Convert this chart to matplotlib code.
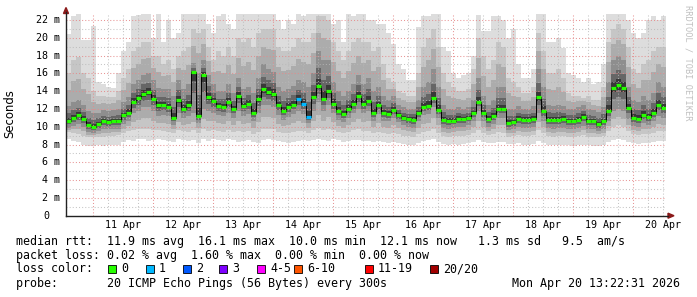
import numpy as np
import matplotlib
matplotlib.use("Agg")
import matplotlib.pyplot as plt
from matplotlib.patches import Rectangle, Polygon
import matplotlib.transforms as mtransforms

# ---------------- data ----------------
t_start = 10 + (13 + 22 / 60) / 24   # Apr 10 13:22 (day-of-April units)
t_end = 20 + (13 + 22 / 60) / 24     # Apr 20 13:22

day_ticks = [11, 12, 13, 14, 15, 16, 17, 18, 19, 20]
day_labels = ["11 Apr", "12 Apr", "13 Apr", "14 Apr", "15 Apr",
              "16 Apr", "17 Apr", "18 Apr", "19 Apr", "20 Apr"]
y_ticks = [0, 2, 4, 6, 8, 10, 12, 14, 16, 18, 20, 22]
y_labels = ["0", "2 m", "4 m", "6 m", "8 m", "10 m", "12 m", "14 m",
            "16 m", "18 m", "20 m", "22 m"]

# median RTT (ms), one value per 2-hour column
median_ms = [
    10.7, 11.0, 11.3, 10.9, 10.2, 10.0, 10.3, 10.6, 10.5, 10.6, 10.6, 11.3, 11.6, 12.8, 13.2,
    13.7, 13.9, 13.1, 12.4, 12.4, 12.2, 11.0, 13.0, 12.0, 12.4, 16.1, 11.2, 15.8, 13.3, 12.9,
    12.3, 12.2, 12.8, 12.0, 13.5, 12.3, 12.6, 11.5, 13.1, 14.2, 13.9, 13.7, 12.4, 11.8, 12.2,
    12.5, 13.1, 12.6, 11.1, 13.4, 14.6, 13.1, 14.0, 12.6, 11.8, 11.4, 12.0, 12.6, 13.5, 12.6,
    12.9, 11.5, 12.4, 11.5, 11.4, 11.9, 11.3, 11.0, 10.9, 10.8, 11.5, 12.2, 12.3, 13.2, 11.9,
    10.8, 10.7, 10.7, 10.9, 10.9, 11.0, 11.5, 12.8, 11.5, 10.9, 11.2, 12.0, 12.0, 10.4, 10.5,
    10.9, 10.8, 10.8, 10.9, 13.3, 11.8, 10.8, 10.8, 10.8, 10.9, 10.6, 10.6, 10.8, 11.1, 10.6,
    10.6, 10.3, 10.6, 11.8, 14.4, 14.7, 14.4, 12.1, 11.0, 10.9, 11.3, 11.1, 11.5, 12.5, 12.1,
]
# lost pings per column (out of 20)
loss_pings = [
    0, 0, 0, 0, 0, 0, 0, 0, 0, 0, 0, 0, 0, 0, 0, 0, 0, 0, 0, 0, 0, 0, 0, 0, 0, 0, 0, 0, 0, 0,
    0, 0, 0, 0, 0, 0, 0, 0, 0, 0, 0, 0, 0, 0, 0, 0, 1, 1, 1, 0, 0, 0, 0, 0, 0, 0, 0, 0, 0, 0,
    0, 0, 0, 0, 0, 0, 0, 0, 0, 0, 0, 0, 0, 0, 0, 0, 0, 0, 0, 0, 0, 0, 0, 0, 0, 0, 0, 0, 0, 0,
    0, 0, 0, 0, 0, 0, 0, 0, 0, 0, 0, 0, 0, 0, 0, 0, 0, 0, 0, 0, 0, 0, 0, 0, 0, 0, 0, 0, 0, 0,
]
# smoke: distribution of the 20 pings in each column (ms)
smoke_min = [
    8.6, 8.4, 8.3, 8.0, 7.8, 7.8, 7.9, 7.8, 7.9, 8.0, 8.0, 8.3, 8.5, 8.4, 8.6,
    8.6, 8.4, 8.5, 8.6, 8.5, 8.4, 8.3, 8.6, 8.5, 8.4, 8.5, 8.2, 8.6, 8.4, 8.6,
    8.5, 8.4, 8.6, 8.5, 8.3, 8.4, 8.5, 8.3, 8.2, 8.5, 8.6, 8.5, 8.4, 8.3, 8.2,
    8.3, 8.4, 8.5, 8.4, 8.5, 8.6, 8.5, 8.4, 8.6, 8.5, 8.3, 8.4, 8.5, 8.5, 8.4,
    8.4, 8.3, 8.4, 8.3, 8.2, 8.3, 8.2, 8.1, 8.0, 8.0, 8.2, 8.4, 8.5, 8.6, 8.3,
    8.1, 8.0, 8.1, 8.0, 8.1, 8.2, 8.3, 8.5, 8.3, 8.2, 8.2, 8.3, 8.3, 8.1, 8.1,
    8.2, 8.0, 8.0, 8.1, 8.4, 8.2, 8.0, 7.9, 8.0, 8.0, 7.9, 7.8, 7.9, 8.0, 7.9,
    7.8, 7.8, 8.0, 8.3, 8.5, 8.6, 8.5, 8.3, 8.2, 8.1, 8.2, 8.2, 8.3, 8.4, 8.4,
]
smoke_p10 = [
    9.4, 9.3, 9.2, 9.0, 8.8, 8.8, 8.9, 8.9, 9.0, 9.0, 9.1, 9.3, 9.5, 9.6, 9.7,
    9.8, 9.7, 9.6, 9.6, 9.5, 9.4, 9.3, 9.6, 9.5, 9.4, 9.6, 9.3, 9.7, 9.5, 9.6,
    9.5, 9.4, 9.6, 9.4, 9.5, 9.4, 9.5, 9.2, 9.4, 9.8, 9.8, 9.7, 9.4, 9.3, 9.3,
    9.4, 9.5, 9.5, 9.3, 9.6, 9.9, 9.6, 9.7, 9.6, 9.4, 9.3, 9.4, 9.6, 9.7, 9.5,
    9.5, 9.3, 9.4, 9.3, 9.2, 9.3, 9.2, 9.0, 9.0, 8.9, 9.2, 9.4, 9.5, 9.7, 9.3,
    9.0, 8.9, 9.0, 9.0, 9.0, 9.1, 9.3, 9.6, 9.3, 9.1, 9.2, 9.4, 9.3, 8.9, 9.0,
    9.1, 9.0, 9.0, 9.1, 9.6, 9.3, 9.0, 8.9, 9.0, 9.0, 8.9, 8.9, 9.0, 9.1, 8.9,
    8.8, 8.8, 9.0, 9.5, 10.0, 10.2, 10.0, 9.5, 9.2, 9.1, 9.2, 9.2, 9.3, 9.5, 9.5,
]
smoke_p25 = [
    9.9, 10.1, 10.3, 10.0, 9.4, 9.3, 9.5, 9.7, 9.7, 9.8, 9.8, 10.3, 10.6, 11.5, 11.8,
    12.2, 12.2, 11.8, 11.2, 11.3, 11.2, 10.2, 11.5, 11.0, 11.2, 11.5, 10.4, 12.0, 11.8, 11.6,
    11.3, 11.2, 11.6, 11.0, 11.8, 11.2, 11.4, 10.6, 11.6, 12.4, 12.4, 12.2, 11.3, 10.8, 11.1,
    11.4, 11.8, 11.4, 10.4, 11.8, 12.8, 11.8, 12.4, 11.5, 10.8, 10.5, 11.0, 11.5, 12.0, 11.5,
    11.8, 10.7, 11.4, 10.7, 10.6, 11.0, 10.5, 10.2, 10.0, 9.9, 10.6, 11.3, 11.4, 12.2, 11.0,
    9.9, 9.8, 9.9, 10.0, 10.0, 10.2, 10.6, 11.8, 10.6, 10.0, 10.3, 11.0, 11.0, 9.6, 9.7,
    10.0, 9.9, 9.9, 10.0, 11.5, 10.6, 9.9, 9.8, 9.9, 9.9, 9.7, 9.7, 9.9, 10.1, 9.7,
    9.7, 9.5, 9.7, 10.6, 11.8, 12.0, 11.8, 10.9, 10.1, 10.0, 10.4, 10.2, 10.6, 11.2, 11.0,
]
smoke_p75 = [
    12.3, 12.8, 13.0, 12.5, 11.8, 11.5, 11.6, 11.9, 11.8, 11.9, 12.0, 12.8, 13.4, 14.8, 15.2,
    15.8, 16.0, 15.2, 14.4, 14.3, 14.2, 13.5, 15.2, 14.2, 14.8, 17.2, 16.0, 17.5, 15.8, 14.8,
    14.0, 14.0, 14.8, 13.8, 15.5, 14.2, 14.5, 13.8, 15.5, 17.0, 16.5, 16.2, 14.5, 14.0, 14.3,
    14.6, 15.2, 15.0, 14.5, 16.0, 18.5, 17.5, 17.5, 15.0, 14.0, 13.5, 14.0, 14.8, 15.8, 14.8,
    15.5, 14.0, 14.5, 13.5, 13.0, 13.5, 12.5, 12.2, 12.0, 12.0, 13.0, 14.5, 15.0, 16.5, 14.5,
    12.5, 12.0, 12.0, 12.2, 12.0, 12.2, 13.0, 15.5, 13.5, 12.5, 13.0, 14.5, 14.5, 12.0, 12.0,
    12.3, 12.0, 12.0, 12.3, 16.5, 14.5, 12.5, 12.3, 12.5, 12.3, 12.0, 12.0, 12.2, 12.5, 12.0,
    11.9, 11.7, 12.2, 15.0, 17.5, 18.0, 17.5, 14.5, 13.0, 12.8, 13.5, 13.0, 13.8, 15.0, 14.5,
]
smoke_p90 = [
    16.0, 17.5, 17.8, 16.0, 15.5, 14.0, 13.5, 13.5, 13.4, 13.4, 14.0, 15.5, 16.5, 18.5, 19.0,
    19.5, 19.5, 18.0, 18.0, 17.0, 17.5, 16.5, 18.0, 18.5, 19.0, 21.0, 20.5, 21.0, 19.0, 17.5,
    18.5, 18.0, 19.0, 18.0, 20.0, 19.5, 20.0, 19.0, 20.5, 21.0, 21.0, 21.0, 19.0, 18.5, 18.5,
    19.0, 20.0, 19.5, 19.5, 20.5, 22.5, 22.5, 22.0, 19.5, 18.5, 17.5, 18.5, 19.5, 20.0, 19.5,
    19.5, 18.5, 19.0, 17.0, 15.5, 15.0, 14.0, 13.8, 13.5, 13.5, 16.0, 19.0, 20.0, 21.0, 19.0,
    16.0, 15.0, 14.5, 14.0, 14.0, 14.2, 16.5, 20.0, 18.0, 16.5, 17.5, 19.5, 19.0, 15.5, 15.0,
    14.5, 13.8, 13.8, 14.5, 20.5, 18.5, 16.0, 16.0, 16.5, 15.5, 13.8, 13.5, 13.5, 13.2, 13.5,
    13.0, 13.0, 14.5, 19.5, 21.0, 21.5, 21.0, 19.0, 16.5, 16.0, 17.0, 17.5, 18.5, 19.0, 19.0,
]
smoke_max = [
    20.4, 22.5, 22.7, 19.8, 19.8, 21.3, 15.0, 14.8, 14.5, 14.4, 16.0, 18.5, 19.5, 22.5, 22.6,
    22.7, 22.7, 20.0, 22.7, 19.5, 22.0, 20.0, 20.5, 22.7, 22.7, 22.7, 22.7, 22.7, 21.5, 20.5,
    22.5, 22.7, 21.5, 21.0, 22.7, 22.7, 22.7, 22.7, 22.7, 22.7, 22.7, 22.7, 22.0, 21.0, 22.0,
    21.5, 22.7, 22.5, 22.7, 22.7, 22.7, 22.7, 22.7, 21.5, 22.0, 19.5, 22.7, 22.5, 22.7, 22.7,
    22.0, 22.0, 21.5, 21.5, 20.5, 19.3, 17.0, 16.5, 15.2, 15.3, 21.2, 22.5, 22.5, 22.7, 22.7,
    19.0, 18.5, 16.0, 15.5, 15.8, 16.0, 18.0, 22.6, 20.8, 20.8, 22.5, 22.5, 22.0, 20.0, 21.0,
    17.0, 15.5, 15.5, 16.5, 22.7, 22.7, 19.5, 19.5, 20.0, 18.8, 16.0, 15.8, 15.5, 15.0, 15.5,
    14.8, 15.0, 17.0, 22.7, 22.7, 22.7, 22.7, 22.0, 20.5, 20.0, 20.5, 22.0, 22.5, 22.0, 22.5,
]

loss_names = ["0", "1", "2", "3", "4-5", "6-10", "11-19", "20/20"]
loss_cols = ["#26ff00", "#00b8ff", "#0059ff", "#7e00ff", "#ff00ff", "#ff5500", "#ff0000", "#a10000"]

line_rtt = "median rtt:  11.9 ms avg  16.1 ms max  10.0 ms min  12.1 ms now   1.3 ms sd   9.5  am/s"
line_loss = "packet loss: 0.02 % avg  1.60 % max  0.00 % min  0.00 % now"
line_color = "loss color:"
line_probe = "probe:       20 ICMP Echo Pings (56 Bytes) every 300s"
stamp = "Mon Apr 20 13:22:31 2026"

# ---------------- figure ----------------
W, H = 697, 297
fig = plt.figure(figsize=(W / 100, H / 100), dpi=100)
fig.patch.set_facecolor("white")

x0, x1 = 66, 666
y_zero, px_per = 215.7, 8.895
ymax = 22.8
ax = fig.add_axes([x0 / W, (H - y_zero) / H, (x1 - x0) / W, px_per * ymax / H])
ax.set_xlim(t_start, t_end)
ax.set_ylim(0, ymax)
ax.set_facecolor("white")
for s in ax.spines.values():
    s.set_visible(False)
ax.set_xticks([])
ax.set_yticks([])

n = len(median_ms)
edges = np.linspace(t_start, t_end, n + 1)
med = np.array(median_ms)
lo = np.array(smoke_min); p10 = np.array(smoke_p10); p25 = np.array(smoke_p25)
p75 = np.array(smoke_p75); p90 = np.array(smoke_p90); hi = np.array(smoke_max)

layers = [
    (lo, hi, "#dddddd"),
    (p10, p90, "#c6c6c6"),
    ((p10 + p25) / 2, (p90 + p75) / 2, "#acacac"),
    (p25, p75, "#8e8e8e"),
    ((p25 + med) / 2, (p75 + med) / 2, "#666666"),
    (med - (med - p25) * 0.2, med + (p75 - med) * 0.2, "#383838"),
]
for low, up, c in layers:
    ax.stairs(up, edges, baseline=low, fill=True, color=c, lw=0, zorder=2)

# grid
dot = (0, (1, 2))
for d in np.arange(11, 21, 0.25):
    if d > t_end:
        continue
    major = abs(d - round(d)) < 1e-9
    ax.axvline(d, color="#e58a8a" if major else "#b8b8b8", lw=0.75, ls=dot, zorder=3,
               alpha=0.9 if major else 0.8)
for v in range(1, 23):
    major = v % 2 == 0
    ax.axhline(v, color="#e58a8a" if major else "#b8b8b8", lw=0.75, ls=dot, zorder=3,
               alpha=0.9 if major else 0.8)

# median line
ax.stairs(med, edges, baseline=None, color="black", lw=0.7, zorder=4)
cols = [loss_cols[min(l, 1)] if l < 2 else loss_cols[2] for l in loss_pings]
ax.hlines(med, edges[:-1], edges[1:], colors=cols, lw=2.3, zorder=5)

# axes lines and arrows (pixel coordinates)
def P(x, y):
    return (x / W, 1 - y / H)

axis_col = "#222222"
arrow_col = "#8b1a1a"
fig.add_artist(plt.Line2D([P(66, 0)[0], P(668, 0)[0]], [P(0, y_zero)[1]] * 2,
                          color=axis_col, lw=1.0, transform=fig.transFigure))
fig.add_artist(plt.Line2D([P(66, 0)[0]] * 2, [P(0, y_zero)[1], P(0, 12)[1]],
                          color=axis_col, lw=1.0, transform=fig.transFigure))
fig.add_artist(Polygon([P(63.5, 13.5), P(68.5, 13.5), P(66, 7.5)], closed=True,
                       color=arrow_col, transform=fig.transFigure))
fig.add_artist(Polygon([P(668, 213.2), P(668, 218.2), P(674, 215.7)], closed=True,
                       color=arrow_col, transform=fig.transFigure))

# tick labels
mono = "DejaVu Sans Mono"
tr_y = mtransforms.blended_transform_factory(fig.transFigure, ax.transData)
for v, lab in zip(y_ticks, y_labels):
    xr = 60 if v != 0 else 49
    ax.text(xr / W, v, lab, transform=tr_y, ha="right", va="center",
            fontsize=7.2, family=mono, color="#000000")
tr_x = mtransforms.blended_transform_factory(ax.transData, fig.transFigure)
for d, lab in zip(day_ticks, day_labels):
    ax.text(d + 0.5, 1 - 225 / H, lab, transform=tr_x, ha="center", va="center",
            fontsize=7.2, family=mono, color="#000000")

fig.text(*P(10, 114), "Seconds", rotation=90, ha="center", va="center",
         fontsize=8.4, family="DejaVu Sans", color="#000000")
fig.text(*P(688, 5), "RRDTOOL / TOBI OETIKER", rotation=270, ha="center", va="top",
         fontsize=6.2, family=mono, color="#c0c0c0")

# legend
fs = 8.4
fig.text(*P(16, 241), line_rtt, ha="left", va="center", fontsize=fs, family=mono)
fig.text(*P(16, 255), line_loss, ha="left", va="center", fontsize=fs, family=mono)
fig.text(*P(16, 269), line_color, ha="left", va="center", fontsize=fs, family=mono)
fig.text(*P(16, 283), line_probe, ha="left", va="center", fontsize=fs, family=mono)
fig.text(*P(680, 283), stamp, ha="right", va="center", fontsize=fs, family=mono)

sq_x = [108, 146, 183, 219, 257, 294, 365, 430]
for xs, name, c in zip(sq_x, loss_names, loss_cols):
    fig.add_artist(Rectangle(P(xs, 273), 8 / W, 8 / H, facecolor=c, edgecolor="black",
                             lw=0.6, transform=fig.transFigure))
    fig.text(*P(xs + 13, 269), name, ha="left", va="center", fontsize=fs, family=mono)

fig.savefig("out.png", dpi=100, facecolor="white")
